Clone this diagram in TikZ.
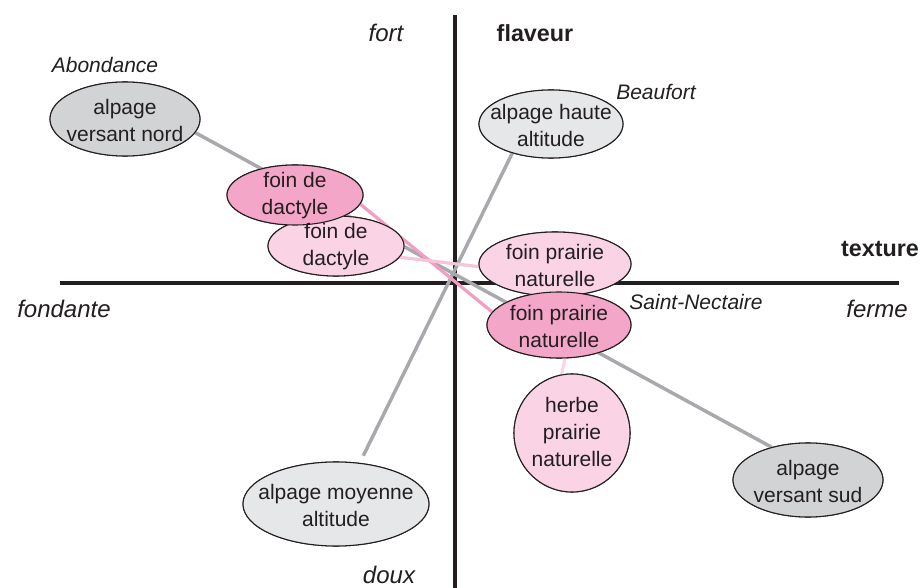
\documentclass[tikz,border=0pt]{standalone}
\usepackage{fontspec}
\setmainfont{Liberation Sans}
\usetikzlibrary{shapes.geometric}
\definecolor{axisc}{HTML}{231F20}
\definecolor{grayD}{HTML}{D1D3D4}
\definecolor{grayL}{HTML}{E6E7E8}
\definecolor{pinkD}{HTML}{F4A6C8}
\definecolor{pinkL}{HTML}{FAD3E4}
\definecolor{lineG}{HTML}{A7A9AC}
\definecolor{lineP}{HTML}{F19EC2}
\definecolor{lineL}{HTML}{F7C5DA}
\definecolor{lineV}{HTML}{FAD6E5}
\begin{document}
\begin{tikzpicture}[x=0.75pt,y=-0.75pt,
  ell/.style 2 args={ellipse, draw=axisc, line width=0.8pt, inner sep=0pt,
    minimum width={#1*0.75pt}, minimum height={#2*0.75pt}},
  txt/.style={align=center, font=\fontsize{15.75}{20.25}\selectfont, text=axisc, inner sep=0pt},
  cheese/.style={font=\fontsize{15.75}{19}\selectfont\itshape, text=axisc, anchor=base, inner sep=0pt},
  axlbl/.style={font=\fontsize{18}{21}\selectfont\itshape, text=axisc, anchor=base, inner sep=0pt},
  axbold/.style={font=\fontsize{17.5}{21}\selectfont\bfseries, text=axisc, anchor=base, inner sep=0pt},
  axisline/.style={draw=axisc, line width=3pt},
  conG/.style={draw=lineG, line width=2.6pt},
  conP/.style={draw=lineP, line width=2.4pt},
  conL/.style={draw=lineL, line width=2.4pt},
  conV/.style={draw=lineV, line width=2.4pt}]
\useasboundingbox (0,0) rectangle (922,588);
\fill[white] (0,0) rectangle (922,588);

% axes
\coordinate (vtop) at (455,15);
\coordinate (vbot) at (455,588);
\coordinate (hleft) at (60,283);
\coordinate (hright) at (899,283);
\draw[axisline] (vtop) -- (vbot);
\draw[axisline] (hleft) -- (hright);

% ellipse nodes (positions)
\path
  (125,119) node[ell={150}{74}] (nord) {}
  (808,480) node[ell={150}{74}] (sud) {}
  (551,124) node[ell={144}{68}] (haute) {}
  (336,504) node[ell={186}{84}] (moy) {}
  (336,246) node[ell={136}{60}] (dacL) {}
  (295,195) node[ell={136}{60}] (dacD) {}
  (555,264) node[ell={152}{64}] (praL) {}
  (559,325) node[ell={144}{66}] (praD) {}
  (572,433) node[ell={116}{118}] (herbe) {};

% connectors
\draw[conG] (nord.-11.5) -- (sud.138);
\draw[conG, shorten >=6pt] (haute.217) -- (moy.60);
\draw[conP] (dacD.-8) -- (praD.169);
\draw[conL] (dacL.-10) -- (praL.182);
\draw[conV] (praD.-80) -- (herbe.100);

% ellipses drawn on top
\node[ell={150}{74}, fill=grayD] at (nord) {};
\node[ell={150}{74}, fill=grayD] at (sud) {};
\node[ell={144}{68}, fill=grayL] at (haute) {};
\node[ell={186}{84}, fill=grayL] at (moy) {};
\node[ell={136}{60}, fill=pinkL] at (dacL) {};
\node[ell={136}{60}, fill=pinkD] at (dacD) {};
\node[ell={152}{64}, fill=pinkL] at (praL) {};
\node[ell={144}{66}, fill=pinkD] at (praD) {};
\node[ell={116}{118}, fill=pinkL] at (herbe) {};

% node texts
\node[txt] (nordT) at (125,120) {alpage\\versant nord};
\node[txt] (sudT) at (808,481) {alpage\\versant sud};
\node[txt] (hauteT) at (551,125) {alpage haute\\altitude};
\node[txt] (moyT) at (336,505) {alpage moyenne\\altitude};
\node[txt] (dacLT) at (336,247) {foin de\\dactyle};
\node[txt] (dacDT) at (295,196) {foin de\\dactyle};
\node[txt] (praLT) at (555,265) {foin prairie\\naturelle};
\node[txt] (praDT) at (559,326) {foin prairie\\naturelle};
\node[txt] (herbeT) at (572,432) {herbe\\prairie\\naturelle};

% cheese labels
\node[cheese] (abond) at (105,73) {Abondance};
\node[cheese] (beauf) at (656,100) {Beaufort};
\node[cheese] (stnec) at (696,310) {Saint-Nectaire};

% axis labels
\node[axlbl] (fort) at (386,42) {fort};
\node[axbold] (flav) at (535,42) {flaveur};
\node[axbold] (text) at (880,257) {texture};
\node[axlbl] (fond) at (64,317) {fondante};
\node[axlbl] (ferme) at (877,318) {ferme};
\node[axlbl] (doux) at (389,583) {doux};
\end{tikzpicture}
\end{document}
